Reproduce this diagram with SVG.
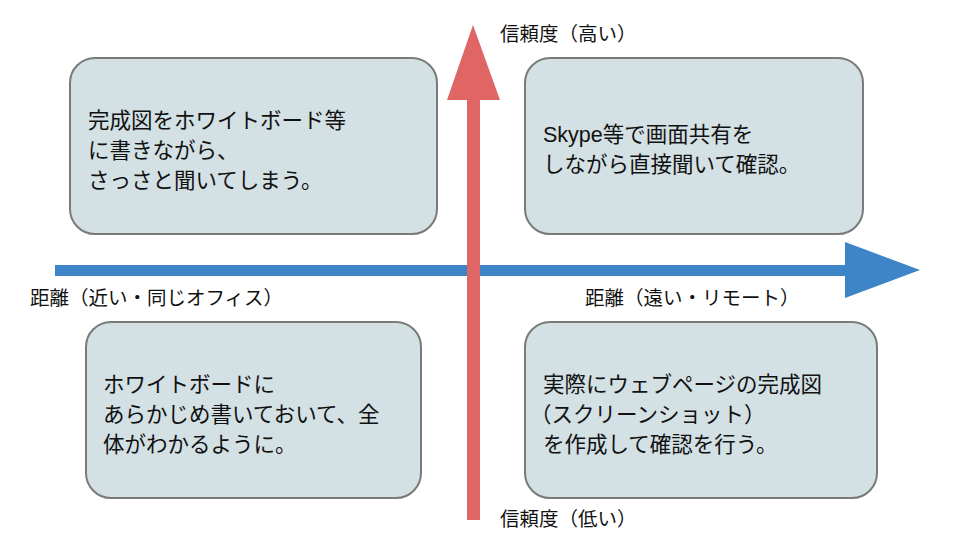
<svg xmlns="http://www.w3.org/2000/svg" width="960" height="540" viewBox="0 0 960 540">
<style>
.box{fill:#d3e0e4;stroke:#7a7a7a;stroke-width:2}
text{font-family:"Liberation Sans","Noto Sans CJK JP",sans-serif;font-size:21.5px;fill:#111}
.lb{font-size:19.5px}
</style>
<rect width="960" height="540" fill="#fff"/>
<g id="connectors">
<rect x="55" y="265" width="792" height="11" fill="#3d85c6"/>
<polygon points="845,242 920,270 845,298" fill="#3d85c6"/>
<rect x="467" y="98" width="13" height="422" fill="#e06666"/>
<polygon points="447,100 473,25 500,100" fill="#e06666"/>
</g>
<g id="tl"><rect class="box" x="70" y="58" width="367" height="176" rx="25"/>
<text x="88" y="128">完成図をホワイトボード等</text><text x="88" y="158">に書きながら、</text><text x="88" y="188">さっさと聞いてしまう。</text></g>
<g id="tr"><rect class="box" x="525" y="58" width="338" height="176" rx="25"/>
<text x="543" y="142">Skype等で画面共有を</text><text x="543" y="172">しながら直接聞いて確認。</text></g>
<g id="bl"><rect class="box" x="86" y="322" width="335" height="176" rx="25"/>
<text x="103" y="392">ホワイトボードに</text><text x="103" y="422">あらかじめ書いておいて、全</text><text x="103" y="452">体がわかるように。</text></g>
<g id="br"><rect class="box" x="525" y="322" width="352" height="176" rx="25"/>
<text x="543" y="392">実際にウェブページの完成図</text><text x="530" y="422">（スクリーンショット）</text><text x="543" y="452">を作成して確認を行う。</text></g>
<g id="labels">
<text class="lb" x="500" y="41">信頼度（高い）</text>
<text class="lb" x="500" y="526">信頼度（低い）</text>
<text class="lb" x="30" y="305">距離（近い・同じオフィス）</text>
<text class="lb" x="585" y="305">距離（遠い・リモート）</text>
</g>
</svg>
